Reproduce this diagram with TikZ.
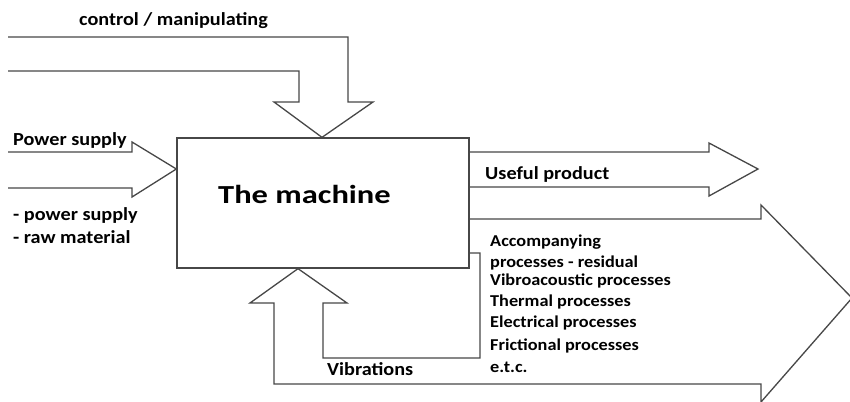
\documentclass[tikz,border=0pt]{standalone}
\usepackage{fontspec}
\setmainfont{Carlito}
\newfontfamily\labelfont[FakeStretch=1.1]{Carlito}
\newfontfamily\titlefont[FakeStretch=1.25]{Carlito}
\begin{document}
\begin{tikzpicture}[x=1pt,y=-1pt,
  outline/.style={draw=black!72,line width=1.3pt,line join=miter},
  lbl/.style={font=\labelfont\bfseries\fontsize{18.4}{21}\selectfont,inner sep=0pt,anchor=base west,text=black},
  small/.style={font=\labelfont\bfseries\fontsize{16.6}{20}\selectfont,inner sep=0pt,anchor=base west,text=black},
  title/.style={font=\titlefont\bfseries\fontsize{26}{30}\selectfont,inner sep=0pt,anchor=base west,text=black}]
\useasboundingbox (0,0) rectangle (850,401);
\begin{scope}
\clip (0,0) rectangle (850,401);

% the machine
\node[outline,minimum width=292pt,minimum height=130pt,inner sep=0pt] (machine) at (323,203) {};
\node[title] (name) at (218,203) {The machine};

% control / manipulating (bent arrow from the top)
\coordinate (ctop) at (machine.north -| 322,0);
\draw[outline] (8,37) -- (348,37) -- (348,102) -- (373,102) -- (ctop)
  -- (274,102) -- (299,102) -- (299,71) -- (8,71);

% power supply / raw material input
\coordinate (pin) at (machine.west |- 0,169);
\draw[outline] (8,152) -- (132,152) -- (132,142) -- (pin)
  -- (132,197) -- (132,188) -- (8,188);

% useful product output
\coordinate (uo) at (machine.east |- 0,152);
\coordinate (ui) at (machine.east |- 0,187);
\draw[outline] (uo) -- (709,152) -- (709,143) -- (758,169) -- (709,196) -- (709,187) -- (ui);

% accompanying processes output with vibration feedback
\coordinate (ao) at (machine.east |- 0,219);
\coordinate (fo) at (machine.east |- 0,253);
\coordinate (fin) at (machine.south -| 298,0);
\draw[outline] (ao) -- (761,219) -- (761,205) -- (852,298) -- (761,402) -- (761,384)
  -- (274,384) -- (274,303) -- (250,303) -- (fin) -- (347,303) -- (323,303)
  -- (323,358) -- (480,358) -- (480,253) -- (fo);
\end{scope}

% labels
\node[lbl] (l1) at (79,26) {control / manipulating};
\node[lbl] (l2) at (13,145) {Power supply};
\node[lbl] (l3) at (13,220) {- power supply};
\node[lbl] (l4) at (13,243) {- raw material};
\node[lbl] (l5) at (485,179) {Useful product};
\node[small] (l6) at (490,246) {Accompanying};
\node[small] (l7) at (490,267) {processes - residual};
\node[small] (l8) at (490,285) {Vibroacoustic processes};
\node[small] (l9) at (490,306) {Thermal processes};
\node[small] (l10) at (490,327) {Electrical processes};
\node[small] (l11) at (490,350) {Frictional processes};
\node[small] (l12) at (490,372) {e.t.c.};
\node[lbl] (l13) at (327,375) {Vibrations};
\end{tikzpicture}
\end{document}
